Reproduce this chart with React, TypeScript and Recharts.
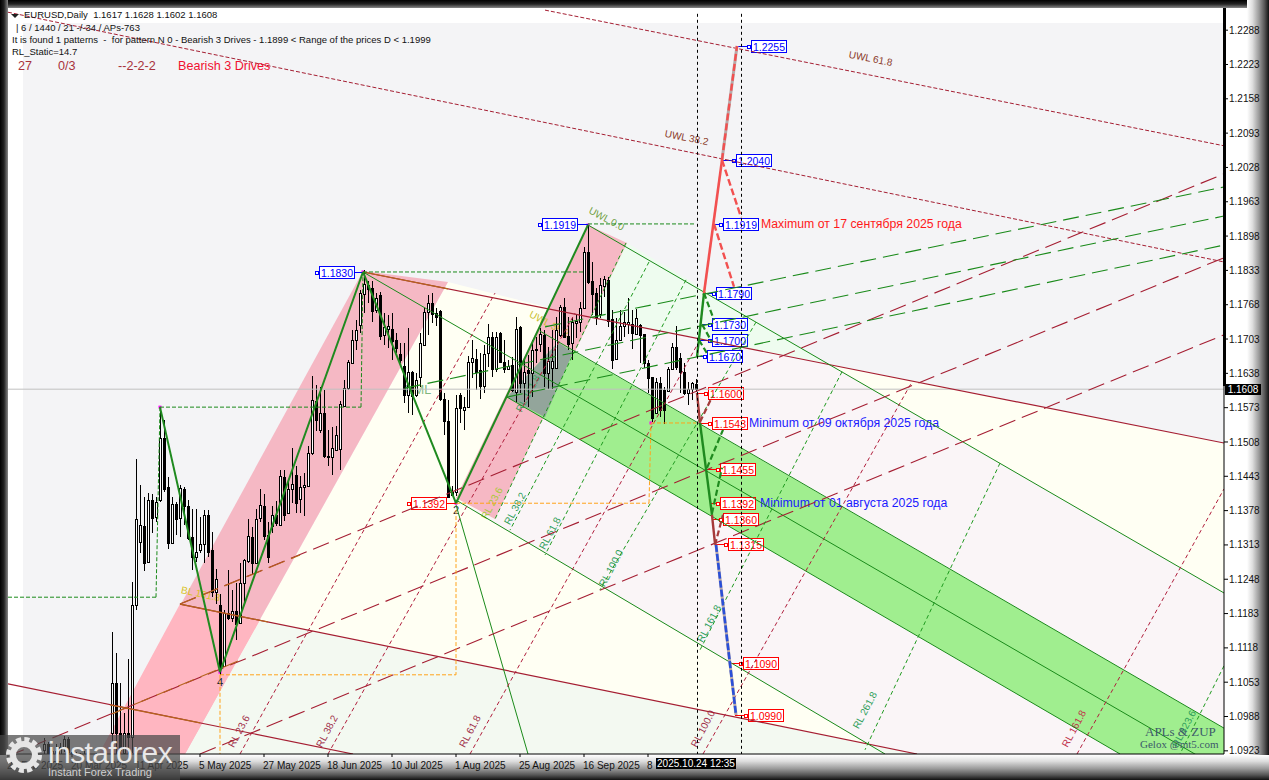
import { Bar, ComposedChart, ReferenceArea, ReferenceLine, XAxis, YAxis } from "recharts";

const FIRST_BAR = 9;
const T_MAX = 304;
const Y_MIN = 1.0917;
const Y_MAX = 1.233;

const opens = [
  1.0925, 1.0935, 1.0915, 1.0922, 1.0912, 1.093, 1.0945, 1.092, 1.0912, 1.0905, 1.0915, 1.0908, 1.09, 1.091, 1.0904, 1.0912, 1.0906,
  1.0956, 1.1051, 1.0956, 1.0918, 1.0957, 1.095, 1.12, 1.1319, 1.1349, 1.1281, 1.1398, 1.1366, 1.1398, 1.1516, 1.1422, 1.1316, 1.139, 1.1364, 1.1419, 1.1386,
  1.1328, 1.1291, 1.1303, 1.1314, 1.1369, 1.1303, 1.1223, 1.12, 1.1084, 1.1185, 1.1174, 1.1188, 1.1166, 1.124, 1.1282, 1.1328, 1.1279, 1.1364, 1.1386, 1.1331,
  1.1348, 1.137, 1.1351, 1.1442, 1.1373, 1.1418, 1.1446, 1.14, 1.1422, 1.1425, 1.1488, 1.1585, 1.153, 1.1563, 1.1482, 1.148, 1.1493, 1.1495, 1.1577, 1.161,
  1.1657, 1.1702, 1.173, 1.1789, 1.1806, 1.1799, 1.1758, 1.1787, 1.171, 1.1722, 1.1722, 1.1702, 1.1674, 1.1651, 1.1597, 1.164, 1.1597, 1.1632, 1.1692, 1.1755,
  1.1771, 1.1752, 1.1757, 1.1589, 1.1548, 1.1408, 1.1414, 1.1597, 1.1569, 1.1574,
  1.1659, 1.1666, 1.1645, 1.1614, 1.1676, 1.1707, 1.1647, 1.1715, 1.1659, 1.1647, 1.1653, 1.1603, 1.1726, 1.1619, 1.1644, 1.1638, 1.1685, 1.1693, 1.171, 1.1638,
  1.1649, 1.1648, 1.171, 1.1763, 1.1708, 1.1695, 1.1734, 1.1736, 1.1761, 1.1868, 1.1813, 1.179, 1.175, 1.1803, 1.1814, 1.174, 1.1666, 1.1702, 1.1727, 1.1731,
  1.1731, 1.1713, 1.1729, 1.1712, 1.1657, 1.1631, 1.1563, 1.162, 1.1606, 1.1604, 1.1647, 1.1688, 1.1667, 1.164, 1.16, 1.1609, 1.1617,
];
const highs = [
  1.0947, 1.094, 1.093, 1.0935, 1.0938, 1.0952, 1.095, 1.0925, 1.092, 1.0918, 1.0922, 1.0916, 1.0912, 1.0918, 1.0914, 1.092, 1.0915,
  1.1149, 1.1108, 1.1051, 1.0994, 1.1096, 1.1243, 1.1475, 1.1426, 1.1404, 1.1412, 1.141, 1.1404, 1.1573, 1.1549, 1.1441, 1.1404, 1.1395, 1.1426, 1.1422, 1.1398,
  1.1382, 1.1382, 1.1366, 1.138, 1.1379, 1.1338, 1.1268, 1.1221, 1.119, 1.1266, 1.1227, 1.124, 1.1278, 1.1287, 1.1363, 1.1347, 1.1382, 1.1419, 1.1409, 1.1357,
  1.1386, 1.1396, 1.1455, 1.1455, 1.1437, 1.1496, 1.1462, 1.1443, 1.1449, 1.15, 1.1633, 1.1616, 1.1613, 1.1607, 1.1531, 1.1537, 1.1539, 1.1585, 1.1626, 1.1664,
  1.172, 1.1739, 1.1796, 1.1833, 1.1812, 1.1812, 1.179, 1.1793, 1.1752, 1.1749, 1.1752, 1.1714, 1.1695, 1.1695, 1.1724, 1.1642, 1.1638, 1.1714, 1.1761, 1.1787,
  1.179, 1.1761, 1.1758, 1.1601, 1.1588, 1.1424, 1.1597, 1.1601, 1.1594, 1.167,
  1.1702, 1.1685, 1.1676, 1.1691, 1.1732, 1.1717, 1.1717, 1.1717, 1.1701, 1.1663, 1.1669, 1.1744, 1.1727, 1.1663, 1.1672, 1.1701, 1.1707, 1.1723, 1.172, 1.1688,
  1.172, 1.1745, 1.1767, 1.178, 1.1745, 1.1745, 1.1751, 1.1773, 1.1878, 1.1919, 1.1849, 1.1799, 1.1818, 1.1822, 1.1821, 1.1758, 1.1742, 1.1758, 1.1754, 1.178,
  1.1758, 1.1759, 1.1732, 1.1713, 1.1663, 1.1632, 1.163, 1.1631, 1.1612, 1.165, 1.1695, 1.1727, 1.1676, 1.1657, 1.1622, 1.1622, 1.1628,
];
const lows = [
  1.0905, 1.0905, 1.09, 1.0905, 1.0905, 1.092, 1.0915, 1.09, 1.0898, 1.0895, 1.09, 1.0896, 1.089, 1.0895, 1.0892, 1.0895, 1.089,
  1.0915, 1.0915, 1.0912, 1.0912, 1.0912, 1.0918, 1.119, 1.1297, 1.1264, 1.1281, 1.1335, 1.1357, 1.1395, 1.1414, 1.1306, 1.1314, 1.1331, 1.1328, 1.135, 1.1322,
  1.1265, 1.1281, 1.1297, 1.1279, 1.1291, 1.1215, 1.1202, 1.1067, 1.1082, 1.1171, 1.1167, 1.1133, 1.1166, 1.1202, 1.1278, 1.1256, 1.1277, 1.1357, 1.1322, 1.1278,
  1.1336, 1.1348, 1.1351, 1.1358, 1.1372, 1.1392, 1.1373, 1.1373, 1.1367, 1.1424, 1.1484, 1.1528, 1.1525, 1.1478, 1.1462, 1.1446, 1.1492, 1.1455, 1.1575, 1.1607,
  1.1656, 1.1683, 1.1714, 1.1752, 1.1771, 1.1736, 1.1752, 1.1702, 1.1692, 1.1686, 1.1664, 1.1676, 1.1657, 1.1582, 1.1563, 1.156, 1.1594, 1.1613, 1.1689, 1.1711,
  1.1733, 1.1727, 1.1585, 1.1522, 1.1402, 1.1405, 1.1405, 1.1544, 1.1531, 1.1572,
  1.1629, 1.1606, 1.159, 1.16, 1.165, 1.1631, 1.1641, 1.1657, 1.1638, 1.1644, 1.1603, 1.1584, 1.16, 1.1584, 1.1575, 1.1594, 1.1657, 1.1679, 1.1612, 1.1609,
  1.1609, 1.1647, 1.1707, 1.1704, 1.1682, 1.1663, 1.1704, 1.1717, 1.1759, 1.1808, 1.1748, 1.1729, 1.1742, 1.1783, 1.1726, 1.1646, 1.1663, 1.1701, 1.1707, 1.1713,
  1.1685, 1.171, 1.1657, 1.1649, 1.16, 1.1546, 1.1562, 1.1556, 1.1543, 1.1603, 1.1644, 1.1644, 1.16, 1.1597, 1.1578, 1.1587, 1.1602,
];
const closes = [
  1.0935, 1.0915, 1.0922, 1.0912, 1.093, 1.0945, 1.092, 1.0912, 1.0905, 1.0915, 1.0908, 1.09, 1.091, 1.0904, 1.0912, 1.0906, 1.0912,
  1.1051, 1.0956, 1.0925, 1.0956, 1.095, 1.12, 1.1363, 1.135, 1.1279, 1.1398, 1.1364, 1.1395, 1.1516, 1.1418, 1.1317, 1.139, 1.1363, 1.142, 1.1387, 1.1326,
  1.1291, 1.13, 1.1314, 1.1369, 1.13, 1.1223, 1.1249, 1.1082, 1.1185, 1.1174, 1.1188, 1.1164, 1.124, 1.1284, 1.133, 1.1279, 1.1363, 1.1388, 1.133, 1.1291,
  1.1369, 1.1354, 1.1443, 1.137, 1.1418, 1.1429, 1.1392, 1.1423, 1.1426, 1.1487, 1.1587, 1.155, 1.1563, 1.1481, 1.148, 1.1497, 1.1522, 1.1579, 1.161, 1.1659,
  1.1702, 1.172, 1.179, 1.1808, 1.1798, 1.1757, 1.178, 1.1708, 1.1726, 1.1727, 1.17, 1.1686, 1.1664, 1.1597, 1.164, 1.1596, 1.1626, 1.1695, 1.1755, 1.1771,
  1.1751, 1.1744, 1.1589, 1.1547, 1.1404, 1.1414, 1.1572, 1.1572, 1.1575, 1.1659,
  1.1667, 1.1641, 1.1614, 1.1674, 1.1707, 1.1647, 1.1707, 1.166, 1.1647, 1.1652, 1.1606, 1.1722, 1.1619, 1.1641, 1.1638, 1.1683, 1.1683, 1.1712, 1.1639, 1.1661,
  1.1661, 1.172, 1.1763, 1.1707, 1.1693, 1.1736, 1.1737, 1.1761, 1.1867, 1.1811, 1.1789, 1.1745, 1.1805, 1.1816, 1.1737, 1.1664, 1.1701, 1.1727, 1.1736, 1.1736,
  1.1715, 1.1742, 1.171, 1.1657, 1.163, 1.1554, 1.1622, 1.1568, 1.1568, 1.1647, 1.1687, 1.165, 1.1641, 1.16, 1.1609, 1.1619, 1.1608,
];

const yTicks = [
  1.2288, 1.2223, 1.2158, 1.2093, 1.2028, 1.1963, 1.1898, 1.1833, 1.1768, 1.1703, 1.1638, 1.1573, 1.1508, 1.1443, 1.1378, 1.1313,
  1.1248, 1.1183, 1.1118, 1.1053, 1.0988, 1.0923,
];
const xTicks = [0, 16, 32, 48, 64, 80, 96, 112, 128, 144, 160];
const xTickLabels = [
  "26 Feb 2025", "20 Mar 2025", "11 Apr 2025", "5 May 2025", "27 May 2025", "18 Jun 2025", "10 Jul 2025", "1 Aug 2025",
  "25 Aug 2025", "16 Sep 2025", "8",
];

// every segment / polygon point is [bar index, price]
const upperWarnLines = [
  [134.25, 1.2326, 304, 1.2069],
  [0, 1.2322, 304, 1.1849],
];
const medianRedLines = [
  [88.75, 1.183, 304, 1.1506],
  [0, 1.105, 86.25, 1.0917],
  [43, 1.1201, 227.25, 1.0917],
];
const brownOnPink = [
  [88.75, 1.183, 110, 1.1798],
  [43, 1.1201, 65, 1.1167],
  [25.5, 1.101, 48, 1.0976],
];
const brownFanOnPink = [
  [43, 1.1201, 73, 1.1294],
  [26, 1.0993, 57.5, 1.1093],
];
const greenThin = [
  [145, 1.1919, 304, 1.1222],
  [88.75, 1.183, 304, 1.0885],
  [133, 1.1718, 304, 1.0966],
  [124.75, 1.1593, 278, 1.0917],
  [112, 1.1398, 219.25, 1.0917],
  [112, 1.1389, 130, 1.0917],
];
const redFan = [
  [43, 1.1201, 304, 1.2016],
  [0, 1.0913, 304, 1.1857],
  [48, 1.0917, 304, 1.1711],
];
const greenFan = [
  [134.25, 1.1726, 304, 1.1991],
  [99.25, 1.161, 304, 1.1936],
  [124.75, 1.1593, 304, 1.1881],
];
const redRetrace = [
  [58, 1.0917, 121.75, 1.179],
  [80, 1.0917, 141.75, 1.1752],
  [115.5, 1.0917, 173.25, 1.1705],
  [173.75, 1.0917, 226, 1.1622],
  [267.25, 1.0917, 304, 1.1419],
];
const greenRetrace = [
  [154.5, 1.1885, 121.75, 1.1362],
  [160.25, 1.1849, 125.5, 1.1341],
  [169.5, 1.1815, 134.25, 1.1294],
  [187, 1.1735, 148, 1.1228],
  [208.5, 1.1641, 173, 1.1114],
  [248, 1.1468, 214.25, 1.0925],
  [304, 1.1084, 293, 1.0917],
];
const greenSteps = [
  [0, 1.1214, 37, 1.1214],
  [37, 1.1214, 38, 1.1574],
  [38, 1.1574, 88.25, 1.1574],
  [88.25, 1.1574, 88.75, 1.183],
  [88.75, 1.183, 144.25, 1.183],
  [145, 1.1921, 171.75, 1.1921],
];
const orangeSteps = [
  [53, 1.1067, 112, 1.1067],
  [53, 1.1067, 53, 1.0917],
  [112, 1.1379, 112, 1.1067],
  [112, 1.1392, 160.25, 1.1392],
  [160.25, 1.1392, 160.75, 1.1544],
  [160.75, 1.1544, 172, 1.1544],
];
const zigzagT = [38, 53, 88.75, 112, 145];
const zigzagP = [1.1574, 1.1072, 1.183, 1.1392, 1.1919];
const pivotT = [38, 53, 88.75, 112, 145, 160.75];
const pivotP = [1.1574, 1.1072, 1.183, 1.1392, 1.1919, 1.1544];
const timeLines = [
  [172.375, 1.2319, 172.375, 1.0917],
  [183.375, 1.2319, 183.375, 1.0917],
];

const forecastGreen = [
  [172.25, 1.1669, 174, 1.179],
  [173, 1.1544, 176, 1.137],
];
const forecastGreenDash = [
  [174, 1.179, 176.5, 1.1739],
  [173.5, 1.1731, 176, 1.1697],
  [172.75, 1.1701, 175, 1.1673],
  [174.75, 1.1459, 178.75, 1.1531],
  [176, 1.1373, 178.5, 1.1459],
];
const forecastRed = [[174, 1.179, 178.5, 1.2042]];
const forecastPinkDash = [
  [178.5, 1.2042, 182.25, 1.2258],
  [178.5, 1.2042, 183.25, 1.1934],
  [176.5, 1.1921, 181.5, 1.1802],
];
const forecastBrown = [
  [172.25, 1.1601, 173, 1.1544],
  [176, 1.137, 176.75, 1.1315],
];
const forecastBrownDash = [
  [173, 1.1546, 176, 1.1593],
  [176.75, 1.1313, 178.75, 1.137],
];
const forecastBlueDash = [[177, 1.1313, 182, 1.0991]];
const forecastShadow = [
  [178.5, 1.2042, 182.25, 1.2258],
  [177, 1.1313, 182, 1.0991],
];

const ivoryPoly = [[110, 1.1811], [141.75, 1.175], [121.75, 1.1362], [112, 1.1398], [219.25, 1.0917], [44.25, 1.0917]];
const palePinkPoly = [[141.75, 1.175], [205, 1.1656], [304, 1.1222], [304, 1.0917], [219.25, 1.0917], [112, 1.1398], [121.75, 1.1362]];
const paleGreenTop = [[154.75, 1.1885], [205, 1.1656], [141.75, 1.175]];
const creamPoly = [[205, 1.1656], [304, 1.1506], [304, 1.1222]];
const paleGreenBottom = [[63, 1.1171], [227.25, 1.0917], [44.25, 1.0917]];
const pinkFirst = [[88.75, 1.1832], [110, 1.1811], [44.25, 1.0917], [22.75, 1.0917]];
const pinkFirstLower = [[43, 1.1201], [63, 1.1171], [44.25, 1.0917], [22.75, 1.0917]];
const pinkSecond = [[145, 1.1919], [154.75, 1.1885], [121.75, 1.1362], [112, 1.1402]];
const greenBand = [[137.5, 1.1697], [304, 1.0966], [304, 1.0917], [278, 1.0917], [124.75, 1.1593]];
const bandOverlap = [[137.5, 1.1697], [141.25, 1.1678], [134.25, 1.1555], [124.75, 1.1593]];

const blueBoxes = ["1.2255", "1.2040", "1.1919", "1.1790", "1.1730", "1.1700", "1.1670", "1.1919", "1.1830"];
const blueBoxT = [185.75, 182, 178.75, 177, 176, 176, 174.75, 133.5, 77.75];
const blueAnchorT = [182.25, 178.5, 176.5, 174, 173.5, 172.75, 172.25, 145, 88.75];
const blueBoxP = [1.2258, 1.2042, 1.1921, 1.179, 1.1731, 1.1701, 1.1671, 1.1921, 1.183];
const redBoxes = ["1.1600", "1.1543", "1.1455", "1.1392", "1.1360", "1.1315", "1.1090", "1.0990", "1.1392"];
const redBoxT = [175, 176, 178, 178, 178.75, 180, 183.75, 185, 100.75];
const redAnchorT = [172.25, 173, 174.75, 175.5, 176, 177, 180.5, 181.75, 112];
const redBoxP = [1.1601, 1.1544, 1.1457, 1.1392, 1.1362, 1.1315, 1.1089, 1.0991, 1.1392];

const noteTexts = ["Maximum от 17 сентября 2025 года", "Minimum от 09 октября 2025 года", "Minimum от 01 августа 2025 года"];
const noteT = [188.25, 185.25, 188];
const noteP = [1.1921, 1.1544, 1.1392];
const noteColors = ["#ff1a1a", "#1a1aff", "#1a1aff"];

const tagTexts = [
  "UWL 61.8", "UWL 38.2", "UWL 0.0", "UML", "BL 161.8", "RL 23.6", "RL 38.2", "RL 61.8", "RL 100.0", "RL 161.8",
  "RL 161.8", "RL 261.8", "RL 423.6", "RL 38.2", "RL 61.8", "RL 100.0", "RL 23.6", "RL 161.8", "UWL 38.2",
];
const tagT = [215.5, 169.5, 149.25, 102.5, 48, 58.5, 80.5, 116.25, 174.5, 267.25, 176, 215, 294.75, 127.5, 136.25, 151.5, 121.75, 130.75, 135];
const tagP = [1.2228, 1.2078, 1.1925, 1.1599, 1.1214, 1.0957, 1.0957, 1.0957, 1.0962, 1.0962, 1.1161, 1.0997, 1.0962, 1.1379, 1.1332, 1.1266, 1.1389, 1.1597, 1.1726];
const tagAngle = [11, 11, 28, 0, 12, -62, -62, -62, -62, -62, -62, -62, -62, -62, -62, -62, -62, -62, 28];
const tagColors = [
  "#8b3a2a", "#8b3a2a", "#6f9f3f", "#7fb77f", "#d9c21e", "#a0304a", "#a0304a", "#a0304a", "#a0304a", "#c0304a",
  "#2e9e5a", "#2e9e5a", "#2e9e5a", "#2e9e5a", "#2e9e5a", "#2e9e5a", "#a8c838", "#3f9f5f", "#c8c030",
];

const candles = opens.map((open, i) => ({
  t: FIRST_BAR + i,
  open,
  high: highs[i],
  low: lows[i],
  close: closes[i],
  range: [lows[i], highs[i]],
}));

const font = "'Liberation Sans', Arial, sans-serif";

function Candle({ x, y, width, height, payload }: any) {
  const cx = Math.round(x + width / 2);
  const unit = height / (payload.high - payload.low);
  const at = (v: number) => Math.round(y + (payload.high - v) * unit);
  const up = payload.close >= payload.open;
  const top = at(Math.max(payload.open, payload.close));
  const bottom = at(Math.min(payload.open, payload.close));
  return (
    <g shapeRendering="crispEdges">
      <rect x={cx} y={y} width={1} height={height} fill="#000" />
      <rect x={cx - 0.5} y={top + 0.5} width={2} height={Math.max(bottom - top, 1)} fill={up ? "#fff" : "#000"} stroke="#000" />
    </g>
  );
}

function makeMap(rect: any) {
  return {
    X: (t: number) => rect.x + (t / T_MAX) * rect.width,
    Y: (p: number) => rect.y + ((Y_MAX - p) / (Y_MAX - Y_MIN)) * rect.height,
  };
}

function Backdrop(rect: any) {
  const { X, Y } = makeMap(rect);
  const poly = (pts: number[][], fill: string) => (
    <polygon points={pts.map(([t, p]) => `${X(t)},${Y(p)}`).join(" ")} fill={fill} />
  );
  return (
    <g>
      {poly(ivoryPoly, "#fffff3")}
      {poly(palePinkPoly, "#faf5f7")}
      {poly(paleGreenTop, "#eefcef")}
      {poly(creamPoly, "#fffff3")}
      {poly(paleGreenBottom, "#f3f9f1")}
      {poly(pinkFirst, "#f5b8c4")}
      {poly(pinkFirstLower, "#ffb6c1")}
      {poly(pinkSecond, "#f6b8c4")}
      {poly(greenBand, "#a0ee8f")}
      {poly(bandOverlap, "#93a59b")}
    </g>
  );
}

function Annotations(rect: any) {
  const { X, Y } = makeMap(rect);
  const box = (text: string, t: number, anchor: number, p: number, color: string, key: string) => {
    const left = Math.round(X(t));
    const cy = Math.round(Y(p));
    return (
      <g key={key}>
        <line x1={X(anchor)} x2={left} y1={cy + 0.5} y2={cy + 0.5} stroke={color} strokeWidth={1} shapeRendering="crispEdges" />
        <rect x={left - 3.5} y={cy - 1} width={3} height={3} fill="#fff" stroke={color} shapeRendering="crispEdges" />
        <rect x={left + 0.5} y={cy - 5.5} width={35} height={12} fill="#fff" stroke={color} strokeWidth={1.2} shapeRendering="crispEdges" />
        <text x={left + 18} y={cy + 4.5} fontFamily={font} fontSize={10.5} textAnchor="middle" fill={color}>
          {text}
        </text>
      </g>
    );
  };
  return (
    <g>
      {pivotT.map((t, i) => (
        <rect key={t} x={X(t) - 1.5} y={Y(pivotP[i]) - 1.5} width={3} height={3} fill="#ff00ff" />
      ))}
      <text x={X(53)} y={Y(1.1053) + 4} fontFamily={font} fontSize={11} fill="#1a2a3a" textAnchor="middle">4</text>
      <text x={X(112)} y={Y(1.1379) + 4} fontFamily={font} fontSize={11} fill="#1a2a3a" textAnchor="middle">2</text>
      {tagTexts.map((text, i) => (
        <text
          key={i}
          transform={`translate(${X(tagT[i])},${Y(tagP[i])}) rotate(${tagAngle[i]})`}
          fontFamily={font}
          fontSize={text === "UML" ? 12.5 : 10}
          textAnchor="middle"
          fill={tagColors[i]}
        >
          {text}
        </text>
      ))}
      {blueBoxes.map((text, i) => box(text, blueBoxT[i], blueAnchorT[i], blueBoxP[i], "#0000ff", `b${i}`))}
      {redBoxes.map((text, i) => box(text, redBoxT[i], redAnchorT[i], redBoxP[i], "#ff0000", `r${i}`))}
      {noteTexts.map((text, i) => (
        <text key={text} x={X(noteT[i])} y={Y(noteP[i]) + 4} fontFamily={font} fontSize={12.3} fill={noteColors[i]}>
          {text}
        </text>
      ))}
    </g>
  );
}

function XTick({ x, y, payload }: any) {
  const label = xTickLabels[xTicks.indexOf(payload.value)];
  return (
    <text x={x - 1} y={y + 10} fontFamily={font} fontSize={10} fill="#111">
      {label}
    </text>
  );
}

function segments(list: number[][], stroke: string, strokeWidth: number, dash?: string) {
  return list.map((s, i) => (
    <ReferenceLine
      key={`${stroke}-${dash}-${s[0]}-${i}`}
      segment={[{ x: s[0], y: s[1] }, { x: s[2], y: s[3] }]}
      stroke={stroke}
      strokeWidth={strokeWidth}
      strokeDasharray={dash}
      ifOverflow="hidden"
    />
  ));
}

const zigzagSegments = zigzagT.slice(1).map((t, i) => [zigzagT[i], zigzagP[i], t, zigzagP[i + 1]]);
const RED = "#a51e32";
const GREEN = "#1a8a1a";

function Logo() {
  return (
    <div style={{ position: "absolute", left: 0, top: 735, width: 180, height: 45, background: "rgba(72,72,72,0.72)", overflow: "hidden" }}>
      <svg width={180} height={45}>
        <circle cx={24} cy={20} r={11} fill="none" stroke="#e6e6e6" strokeWidth={6} />
        <circle cx={24} cy={20} r={15.5} fill="none" stroke="#e6e6e6" strokeWidth={5} strokeDasharray="5 3.1" />
        <text x={48} y={28} fontFamily={font} fontSize={30} fill="#e8e8e8" letterSpacing={-0.6}>instaforex</text>
        <text x={48} y={41} fontFamily={font} fontSize={11} fill="#cfcfcf">Instant Forex Trading</text>
      </svg>
    </div>
  );
}

function headerLine(text: string, left: number, top: number, extra?: any) {
  return (
    <div style={{ position: "absolute", left, top, fontFamily: font, fontSize: 9.5, lineHeight: "12px", color: "#111", whiteSpace: "pre", ...extra }}>
      {text}
    </div>
  );
}

export default function App() {
  const bevel = "#fff 0%, #ddd 25%, #999 55%, #555 80%, #111 100%";
  return (
    <div style={{ position: "absolute", left: 0, top: 0, width: 1269, height: 780, background: "#000", overflow: "hidden" }}>
      <div style={{ position: "absolute", left: 0, top: 0, width: 1269, height: 8, background: "linear-gradient(to bottom, #000, #222 50%, #888)" }} />
      <div style={{ position: "absolute", left: 0, top: 0, width: 8, height: 780, background: "linear-gradient(to right, #000, #222 50%, #888)" }} />
      <div style={{ position: "absolute", left: 8, top: 8, width: 1254, height: 748, background: "#fff" }} />
      <div style={{ position: "absolute", left: 23, top: 23, width: 1201, height: 731, background: "#f4f4f6" }} />
      <div style={{ position: "absolute", left: 1247, top: 0, width: 22, height: 780, background: `linear-gradient(to right, ${bevel})` }} />
      <div style={{ position: "absolute", left: 0, top: 755, width: 1269, height: 25, background: `linear-gradient(to bottom, ${bevel})` }} />

      <div style={{ position: "absolute", left: 0, top: 0 }}>
        <ComposedChart width={1269} height={780} data={candles} margin={{ top: 8, right: 0, bottom: 0, left: 8 }}>
          <XAxis
            dataKey="t"
            type="number"
            domain={[0, T_MAX]}
            ticks={xTicks}
            interval={0}
            allowDataOverflow
            height={26}
            tickSize={3}
            tick={<XTick />}
            axisLine={{ stroke: "#000" }}
            tickLine={{ stroke: "#000" }}
          />
          <YAxis
            type="number"
            orientation="right"
            domain={[Y_MIN, Y_MAX]}
            ticks={yTicks}
            interval={0}
            allowDataOverflow
            width={45}
            tickSize={4}
            tickMargin={1}
            tickFormatter={(v: number) => v.toFixed(4)}
            tick={{ fontFamily: font, fontSize: 10, fill: "#111" }}
            axisLine={{ stroke: "#000" }}
            tickLine={{ stroke: "#000" }}
          />
          <ReferenceArea x1={0} x2={T_MAX} y1={Y_MIN} y2={Y_MAX} shape={Backdrop} />
          <ReferenceLine y={1.1608} stroke="#c0c0c0" />
          {segments(upperWarnLines, RED, 1, "4 2")}
          {segments(medianRedLines, RED, 1.2)}
          {segments(brownOnPink, "#b5651d", 1.2)}
          {segments(greenThin, GREEN, 1)}
          {segments(redFan, RED, 1.1, "17 7")}
          {segments(brownFanOnPink, "#b5651d", 1.1, "17 7")}
          {segments(greenFan, GREEN, 1.1, "16 7")}
          {segments(redRetrace, "#b01e3c", 1, "4 3")}
          {segments(greenRetrace, "#1f9a1f", 1, "4 3")}
          {segments(greenSteps, GREEN, 1, "4 2")}
          {segments(orangeSteps, "#ffa31a", 1, "4 2")}
          {segments(zigzagSegments, "#1f8a1f", 2)}
          {segments(forecastShadow, "#b8a8a8", 3)}
          {segments(forecastGreen, "#1f8a1f", 2.4)}
          {segments(forecastGreenDash, "#1f8a1f", 2.2, "6 3")}
          {segments(forecastRed, "#f25050", 2.6)}
          {segments(forecastPinkDash, "#f25050", 2.4, "7 3")}
          {segments(forecastBrown, "#a53a3a", 2.4)}
          {segments(forecastBrownDash, "#a53a3a", 2.2, "6 3")}
          {segments(forecastBlueDash, "#2a4fd8", 2.6, "7 2")}
          {segments(timeLines, "#000", 1, "3 3")}
          <Bar dataKey="range" barSize={3} shape={<Candle />} isAnimationActive={false} />
          <ReferenceArea x1={0} x2={T_MAX} y1={Y_MIN} y2={Y_MAX} shape={Annotations} />
        </ComposedChart>
      </div>

      <div style={{ position: "absolute", left: 1223, top: 8, width: 3, height: 378, background: "#000" }} />
      <div style={{ position: "absolute", left: 1225, top: 384, width: 36, height: 11, background: "#000", color: "#fff", fontFamily: font, fontSize: 10, lineHeight: "11px", textAlign: "center" }}>
        1.1608
      </div>
      <div style={{ position: "absolute", left: 656, top: 758, width: 80, height: 11, background: "#000", color: "#fff", fontFamily: font, fontSize: 10, lineHeight: "11px", textAlign: "center" }}>
        2025.10.24 12:35
      </div>

      <div style={{ position: "absolute", left: 11, top: 14, width: 0, height: 0, borderLeft: "4px solid transparent", borderRight: "4px solid transparent", borderTop: "4px solid #222" }} />
      {headerLine("EURUSD,Daily  1.1617 1.1628 1.1602 1.1608", 24, 9)}
      {headerLine("| 6 / 1440 / 21 -/-34 / APs-763", 16, 22)}
      {headerLine("It is found 1 patterns  -  for pattern N 0 - Bearish 3 Drives - 1.1899 < Range of the prices D < 1.1999", 12, 34)}
      {headerLine("RL_Static=14.7", 12, 46)}
      {headerLine("27", 18, 60, { fontSize: 12.6, color: "#a8323c" })}
      {headerLine("0/3", 58, 60, { fontSize: 12.6, color: "#a8323c" })}
      {headerLine("--2-2-2", 118, 60, { fontSize: 12.6, color: "#a8323c" })}
      {headerLine("Bearish 3 Drives", 178, 60, { fontSize: 12.6, color: "#f01030" })}

      <div style={{ position: "absolute", left: 1145, top: 724, fontFamily: "'Liberation Serif', serif", fontSize: 13, color: "#3c5a6a", whiteSpace: "pre" }}>APLs &amp; ZUP</div>
      <div style={{ position: "absolute", left: 1140, top: 738, fontFamily: "'Liberation Serif', serif", fontSize: 11, color: "#3c5a6a", whiteSpace: "pre" }}>Gelox @mt5.com</div>
      <Logo />
    </div>
  );
}
